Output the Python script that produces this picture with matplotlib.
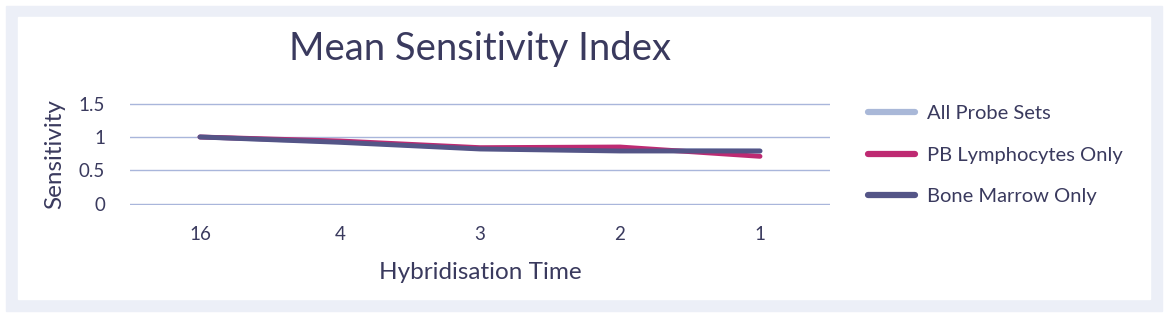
import matplotlib.pyplot as plt
from matplotlib.patches import Rectangle

hours = ["16", "4", "3", "2", "1"]
all_probe = [1.0, 0.93, 0.83, 0.80, 0.79]
pb_lymph = [1.0, 0.94, 0.84, 0.85, 0.71]
bone_marrow = [1.0, 0.92, 0.82, 0.79, 0.79]

txt = "#3a3a5e"
plt.rcParams['font.family'] = ['Lato', 'DejaVu Sans']

W, H = 1169, 318
fig = plt.figure(figsize=(W/100, H/100), dpi=100)
fig.patch.set_facecolor("white")

# outer frame, drawn behind the axes
fig.patches.append(Rectangle((6/W, 1-311/H), (1162-6)/W, (311-6)/H,
                             transform=fig.transFigure, color="#eceff7", zorder=-2))
fig.patches.append(Rectangle((18/W, 1-299/H), (1150-18)/W, (299-17)/H,
                             transform=fig.transFigure, color="white", zorder=-1))

ax = fig.add_axes([130/W, 1-205/H, 700/W, 102/H])
ax.set_facecolor("none")
x = range(len(hours))
ax.plot(x, all_probe, color="#a9b8d8", lw=3.5, solid_capstyle="round", label="All Probe Sets")
ax.plot(x, pb_lymph, color="#be2a72", lw=3.5, solid_capstyle="round", label="PB Lymphocytes Only")
ax.plot(x, bone_marrow, color="#545587", lw=3.5, solid_capstyle="round", label="Bone Marrow Only")

ax.set_xlim(-0.5, 4.5)
ax.set_ylim(-0.02, 1.51)
ax.set_yticks([0, 0.5, 1, 1.5])
ax.set_yticklabels(["0", "0.5", "1", "1.5"])
ax.set_xticks(list(x))
ax.set_xticklabels(hours)
ax.grid(axis="y", color="#a9b6db", lw=1)
ax.set_axisbelow(True)
for s in ax.spines.values():
    s.set_visible(False)
ax.tick_params(length=0, labelsize=13.5, colors=txt)
ax.tick_params(axis="y", pad=18)
ax.tick_params(axis="x", pad=15)

ax.set_xlabel("Hybridisation Time", fontsize=17.5, color=txt, labelpad=14)
ax.set_ylabel("Sensitivity", fontsize=17.5, color=txt, labelpad=10)
ax.set_title("Mean Sensitivity Index", fontsize=27.5, color=txt, pad=31)

leg = ax.legend(loc="upper left", bbox_to_anchor=(1.029, 1.16), frameon=False,
                fontsize=14.5, labelcolor=txt, handlelength=2.3, labelspacing=1.22,
                handletextpad=0.6)
for l in leg.get_lines():
    l.set_linewidth(4.5)

fig.savefig("out.png", dpi=100)
